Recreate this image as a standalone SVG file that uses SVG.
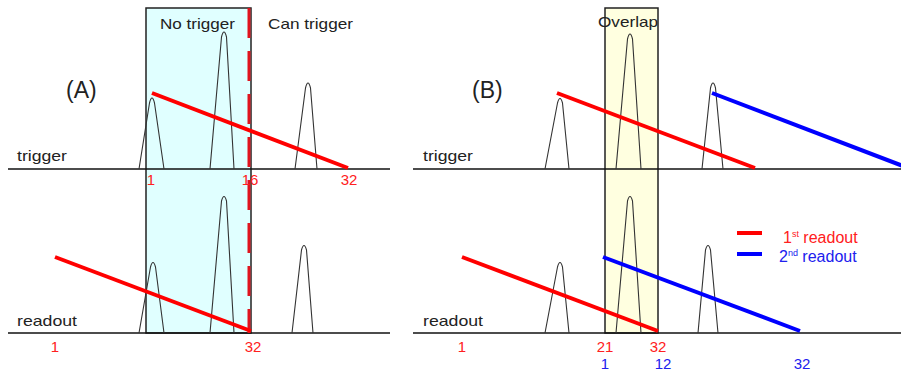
<svg xmlns="http://www.w3.org/2000/svg" width="901" height="372" viewBox="0 0 901 372">
<style>
.t{font-family:"Liberation Sans",Arial,sans-serif;fill:#222}
.lab{font-size:15px}
.big{font-size:23px}
.num{font-family:"Liberation Sans",Arial,sans-serif;font-size:15px;text-anchor:middle}
.r{fill:#ff2020}
.b{fill:#2020ee}
.base{stroke:#111;stroke-width:1.5;fill:none}
.box{stroke:#222;stroke-width:1.5}
.pk{stroke:#333;stroke-width:1.1;fill:none}
.rl{stroke:#ff0000;stroke-width:4;stroke-linecap:butt}
.bl{stroke:#0000ff;stroke-width:4;stroke-linecap:butt}
.leg{font-family:"Liberation Sans",Arial,sans-serif;font-size:16px}
</style>
<rect width="901" height="372" fill="#fff"/>
<g id="boxA"><rect class="box" x="146" y="8" width="105" height="325" fill="#e0ffff"/></g>
<g id="boxB"><rect class="box" x="605" y="8" width="53" height="325" fill="#ffffe0"/></g>
<g id="baselines">
<line class="base" x1="8" y1="169" x2="390" y2="169"/>
<line class="base" x1="8" y1="333" x2="390" y2="333"/>
<line class="base" x1="413" y1="169" x2="901" y2="169"/>
<line class="base" x1="413" y1="333" x2="901" y2="333"/>
</g>
<g id="peaks">
<path class="pk" d="M139 169 L149.5 103 Q152 93 154.5 103 L164 169"/>
<path class="pk" d="M210 169 L221.5 37 Q224 27 226.5 37 L234 169"/>
<path class="pk" d="M295 169 L305.5 88 Q308 78 310.5 88 L317 169"/>
<path class="pk" d="M139 333 L150.5 267 Q153 258 155.5 267 L164 333"/>
<path class="pk" d="M210 333 L221.5 201 Q224 192 226.5 201 L234 333"/>
<path class="pk" d="M292 333 L301.5 250 Q304 241 306.5 250 L313 333"/>
<path class="pk" d="M545 169 L557.5 103 Q560 94 562.5 103 L569 169"/>
<path class="pk" d="M616 169 L627.5 39 Q630 29 632.5 39 L641 169"/>
<path class="pk" d="M702 169 L710.5 88 Q713 78 715.5 88 L723 169"/>
<path class="pk" d="M545 333 L557.5 267 Q560 258 562.5 267 L569 333"/>
<path class="pk" d="M616 333 L627.5 201 Q630 192 632.5 201 L641 333"/>
<path class="pk" d="M698 333 L705.5 250 Q708 241 710.5 250 L718 333"/>
</g>
<g id="connectors">
<line x1="249" y1="8" x2="249" y2="333" stroke="#e0141e" stroke-width="3" stroke-dasharray="30 13"/>
<line class="rl" x1="152" y1="93" x2="348" y2="168"/>
<line class="rl" x1="55" y1="257" x2="251" y2="331"/>
<line class="rl" x1="557" y1="93" x2="755" y2="168"/>
<line class="bl" x1="712" y1="93" x2="903" y2="166"/>
<line class="rl" x1="462" y1="257" x2="658" y2="331"/>
<line class="bl" x1="603" y1="257" x2="800" y2="331"/>
</g>
<g id="labels">
<text class="t big" x="66" y="98">(A)</text>
<text class="t big" x="472" y="98">(B)</text>
<text class="t lab" x="160" y="29" textLength="75" lengthAdjust="spacingAndGlyphs">No trigger</text>
<text class="t lab" x="268" y="29" textLength="85" lengthAdjust="spacingAndGlyphs">Can trigger</text>
<text class="t lab" x="598" y="27" textLength="60" lengthAdjust="spacingAndGlyphs">Overlap</text>
<text class="t lab" x="17" y="161" textLength="50" lengthAdjust="spacingAndGlyphs">trigger</text>
<text class="t lab" x="17" y="326" textLength="60" lengthAdjust="spacingAndGlyphs">readout</text>
<text class="t lab" x="423" y="161" textLength="50" lengthAdjust="spacingAndGlyphs">trigger</text>
<text class="t lab" x="423" y="326" textLength="60" lengthAdjust="spacingAndGlyphs">readout</text>
</g>
<g id="numbers">
<text class="num r" x="151" y="185">1</text>
<text class="num r" x="250" y="185">16</text>
<text class="num r" x="349" y="185">32</text>
<text class="num r" x="55" y="352">1</text>
<text class="num r" x="253" y="352">32</text>
<text class="num r" x="462" y="352">1</text>
<text class="num r" x="605" y="352">21</text>
<text class="num r" x="658" y="352">32</text>
<text class="num b" x="605" y="369">1</text>
<text class="num b" x="663" y="369">12</text>
<text class="num b" x="802" y="369">32</text>
</g>
<g id="legend">
<line class="rl" x1="737" y1="233" x2="762" y2="233"/>
<line class="bl" x1="737" y1="254" x2="762" y2="254"/>
<text class="leg" x="783" y="243" fill="#ff2020">1<tspan font-size="9" dy="-6">st</tspan><tspan dy="6"> readout</tspan></text>
<text class="leg" x="779" y="262" fill="#2020ee">2<tspan font-size="9" dy="-6">nd</tspan><tspan dy="6"> readout</tspan></text>
</g>
</svg>
